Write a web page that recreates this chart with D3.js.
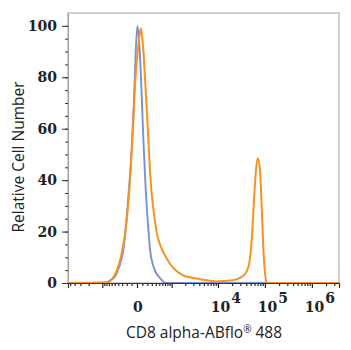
<!DOCTYPE html>
<html><head><meta charset="utf-8">
<script src="https://cdn.jsdelivr.net/npm/d3@7"></script>
<style>
html,body{margin:0;padding:0;background:#fff;}
svg{display:block;}
</style></head>
<body>
<svg id="chart" width="351" height="350"></svg>
<script>
// ---- data ----
const xTitleMain = "CD8 alpha-ABflo";
const xTitleMark = "\u00AE";
const xTitleEnd = " 488";
const yTitle = "Relative Cell Number";
const yTicks = [0, 20, 40, 60, 80, 100];
const yMinorTicks = d3.range(0, 101, 5);
const xMajorTicks = [-1000, 0, 1000, 1e4, 1e5, 1e6];
const xLabelTicks = [0, 1e4, 1e5, 1e6];
const xLabels = ["0", "10|4", "10|5", "10|6"];
const xMinorTicks = [-5000, -4000, -3000, -2000,
  -900, -800, -700, -600, -500, -400, -300, -200, -100,
  100, 200, 300, 400, 500, 600, 700, 800, 900,
  2000, 3000, 4000, 5000, 6000, 7000, 8000, 9000,
  2e4, 3e4, 4e4, 5e4, 6e4, 7e4, 8e4, 9e4,
  2e5, 3e5, 4e5, 5e5, 6e5, 7e5, 8e5, 9e5,
  2e6, 3e6];
const xDomain = [-5557, 3.78e6];
const yDomain = [0, 105];

// isotype control (blue)
const blueX = [-5557, -780, -660, -491, -379, -273, -214, -172, -99, -56, -19, 9, 46, 84, 122, 162, 193, 225, 258, 328, 405, 522, 660, 779, 3.78e6];
const blueY = [0, 0.3, 1, 2.5, 6, 12.8, 22, 32, 52, 71, 92, 100, 92, 75, 55, 38, 28, 20, 13, 7, 4, 2, 0.3, 0, 0];
// CD8 alpha stained (orange)
const orangeX = [-5557, -780, -588, -433, -304, -214, -132, -75, -28, 28, 69, 94, 122, 152, 193, 235, 280, 328, 379, 433, 522, 766, 1071, 1782, 2525, 4138, 5837, 9541, 14123, 20903, 29466, 39510, 46470, 52280, 58520, 64540, 70500, 78520, 85360, 92310, 100330, 109050, 3.78e6];
const orangeY = [0, 0, 1.5, 5, 12, 22, 40, 60, 80, 93, 99, 96, 90, 80, 66, 51, 38, 30, 24, 19, 15, 9.5, 6, 3, 2.2, 1.5, 1.1, 0.6, 0.8, 1.1, 2, 4, 7.7, 16.7, 32, 44, 48.5, 44, 29.7, 14, 3.9, 0, 0];

// ---- layout ----
const svg = d3.select("#chart");
const L = 68, R = 339, T = 13, B = 283;
const C = 378;
const tf = v => Math.asinh(v / C);
const xs = d3.scaleLinear().domain(xDomain.map(tf)).range([L, R]);
const ys = d3.scaleLinear().domain(yDomain).range([B, T]);
const X = v => xs(tf(v));

// frame
svg.append("rect").attr("x", L).attr("y", T).attr("width", R - L).attr("height", B - T)
  .attr("fill", "none").attr("stroke", "#a0a0a0").attr("stroke-width", 1);

// curves
const line = d3.line().x(d => X(d[0])).y(d => ys(d[1])).curve(d3.curveMonotoneX);
svg.append("path").datum(blueX.map((x, i) => [x, blueY[i]]))
  .attr("d", line).attr("fill", "none").attr("stroke", "#7b8fd6").attr("stroke-width", 1.9);
svg.append("path").datum(orangeX.map((x, i) => [x, orangeY[i]]))
  .attr("d", line).attr("fill", "none").attr("stroke", "#f7911f").attr("stroke-width", 2);

// y axis
const yAxisMinor = svg.append("g").attr("transform", `translate(${L},0)`)
  .call(d3.axisLeft(ys).tickValues(yMinorTicks).tickSize(3).tickFormat(""));
const yAxis = svg.append("g").attr("transform", `translate(${L},0)`)
  .call(d3.axisLeft(ys).tickValues(yTicks).tickSize(6).tickPadding(5));
[yAxisMinor, yAxis].forEach(g => {
  g.select(".domain").attr("stroke", "#a0a0a0");
  g.selectAll(".tick line").attr("stroke", "#333");
});
yAxisMinor.select(".domain").remove();
yAxis.select(".domain").attr("d", `M0.5,${T}V${B}`);
yAxis.selectAll(".tick text").attr("font-family", "DejaVu Serif").attr("font-size", 14)
  .attr("font-weight", "bold").attr("fill", "#222");

// x axis
const xAxisMinor = svg.append("g").attr("transform", `translate(0,${B})`)
  .call(d3.axisBottom(xs).tickValues(xMinorTicks.map(tf)).tickSize(3).tickFormat(""));
const xAxis = svg.append("g").attr("transform", `translate(0,${B})`)
  .call(d3.axisBottom(xs).tickValues(xMajorTicks.map(tf)).tickSize(5).tickFormat(""));
xAxisMinor.select(".domain").remove();
xAxis.select(".domain").attr("stroke", "#333").attr("stroke-width", 1.2);
[xAxisMinor, xAxis].forEach(g => g.selectAll(".tick line").attr("stroke", "#222").attr("stroke-width", 1.2));

// x labels
const lab = svg.append("g").attr("font-family", "DejaVu Serif").attr("font-size", 14)
  .attr("font-weight", "bold").attr("fill", "#222");
xLabelTicks.forEach((v, i) => {
  const parts = xLabels[i].split("|");
  const t = lab.append("text").attr("y", 312)
    .attr("x", X(v) + (parts.length > 1 ? 8 : 1)).attr("text-anchor", "middle");
  t.append("tspan").text(parts[0]);
  if (parts.length > 1) t.append("tspan").attr("dy", -9).attr("dx", 1).text(parts[1]);
});

// titles
const xt = svg.append("text").attr("x", 204).attr("y", 338).attr("text-anchor", "middle")
  .attr("font-family", "Open Sans").attr("font-size", 15.5).attr("fill", "#222");
xt.append("tspan").text(xTitleMain);
xt.append("tspan").attr("font-size", 10).attr("dy", -5).text(xTitleMark);
xt.append("tspan").attr("dy", 5).text(xTitleEnd);
svg.append("text").attr("transform", "translate(24,157) rotate(-90)").attr("text-anchor", "middle")
  .attr("font-family", "Open Sans").attr("font-size", 15.5).attr("fill", "#222").text(yTitle);
</script>
</body></html>
